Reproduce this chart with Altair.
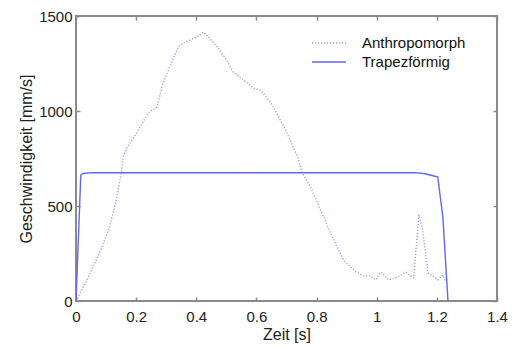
import altair as alt
import pandas as pd

anthro_t = [0, 0.033, 0.057, 0.085, 0.113, 0.135, 0.15, 0.157, 0.17, 0.2, 0.24, 0.27,
            0.287, 0.303, 0.34, 0.357, 0.38, 0.403, 0.423, 0.44, 0.47, 0.5, 0.523, 0.56,
            0.59, 0.613, 0.635, 0.657, 0.7, 0.737, 0.753, 0.78, 0.813, 0.857, 0.89, 0.923,
            0.957, 0.98, 0.997, 1.013, 1.04, 1.07, 1.097, 1.123, 1.14, 1.153, 1.17, 1.187,
            1.203, 1.22, 1.23]
anthro_v = [0, 100, 180, 280, 395, 540, 670, 758, 810, 880, 990, 1021,
            1137, 1200, 1337, 1358, 1375, 1390, 1416, 1390, 1337, 1270, 1205, 1160,
            1121, 1110, 1070, 1021, 890, 758, 674, 600, 479, 321, 216, 163,
            132, 132, 111, 153, 111, 126, 153, 121, 453, 374, 147, 132,
            111, 137, 100]

trap_t = [0, 0.016, 0.025, 0.05, 0.5, 1.0, 1.13, 1.16, 1.203, 1.22, 1.237]
trap_v = [0, 663, 672, 675, 675, 675, 675, 670, 653, 442, 0]

series_names = ["Anthropomorph", "Trapezförmig"]

df = pd.concat([
    pd.DataFrame({"t": anthro_t, "v": anthro_v, "s": series_names[0], "o": range(len(anthro_t))}),
    pd.DataFrame({"t": trap_t, "v": trap_v, "s": series_names[1], "o": range(len(trap_t))}),
])

x_ticks = [0, 0.2, 0.4, 0.6, 0.8, 1, 1.2, 1.4]
y_ticks = [0, 500, 1000, 1500]

FONT = "Liberation Sans"
GRAY = "#8a8a8a"

xs = alt.Scale(domain=[0, 1.4], nice=False, zero=False)
ys = alt.Scale(domain=[0, 1500], nice=False)

legend_kw = dict(title=None, orient="none", legendX=235, legendY=20, padding=0,
                 symbolType="stroke", symbolSize=1156, labelFontSize=15, clipHeight=14,
                 labelOffset=15, rowPadding=4, symbolStrokeWidth=1.4)

base = alt.Chart(df)

lines = base.mark_line(clip=True, strokeWidth=1.4).encode(
    x=alt.X("t:Q", scale=xs, title="Zeit [s]",
            axis=alt.Axis(values=x_ticks, format="~g", orient="bottom", offset=-4, tickSize=4,
                          domain=False, grid=False, labelPadding=8, tickColor=GRAY,
                          labelFlush=False, labelOverlap=False,
                          titlePadding=2, labelFontSize=15, titleFontSize=16)),
    y=alt.Y("v:Q", scale=ys, title="Geschwindigkeit [mm/s]",
            axis=alt.Axis(values=y_ticks, format="d", orient="left", offset=-4, tickSize=4, domain=False,
                          grid=False, labelPadding=4, tickColor=GRAY, titlePadding=4,
                          labelFlush=False, labelOverlap=False,
                          labelFontSize=15, titleFontSize=16)),
    color=alt.Color("s:N", scale=alt.Scale(domain=series_names, range=["#9a9aff", "#6464ff"]),
                    legend=alt.Legend(**legend_kw)),
    strokeDash=alt.StrokeDash("s:N", scale=alt.Scale(domain=series_names, range=[[1.2, 1.8], [1, 0]]),
                              legend=alt.Legend(**legend_kw)),
    order="o:Q",
)

frame = base.mark_point(opacity=0).encode(
    x=alt.X("t:Q", scale=xs,
            axis=alt.Axis(values=x_ticks, orient="top", offset=-4, tickSize=4, domain=False,
                          labels=False, title=None, grid=False, tickColor=GRAY)),
    y=alt.Y("v:Q", scale=ys,
            axis=alt.Axis(values=y_ticks, orient="right", offset=-4, tickSize=4, domain=False,
                          labels=False, title=None, grid=False, tickColor=GRAY)),
)

chart = alt.layer(lines, frame).resolve_axis(x="independent", y="independent").properties(
    width=421, height=285,
    autosize=alt.AutoSizeParams(type="none"),
    padding={"left": 76, "top": 16, "right": 17, "bottom": 47},
).configure_view(stroke=GRAY, strokeWidth=2).configure_axis(
    labelFont=FONT, titleFont=FONT, labelColor="#222222", titleColor="#222222",
    titleFontWeight="normal", tickWidth=1.5,
).configure_legend(labelFont=FONT, labelColor="#111111")

chart.save("out.html", embed_options={"renderer": "svg", "actions": False})
